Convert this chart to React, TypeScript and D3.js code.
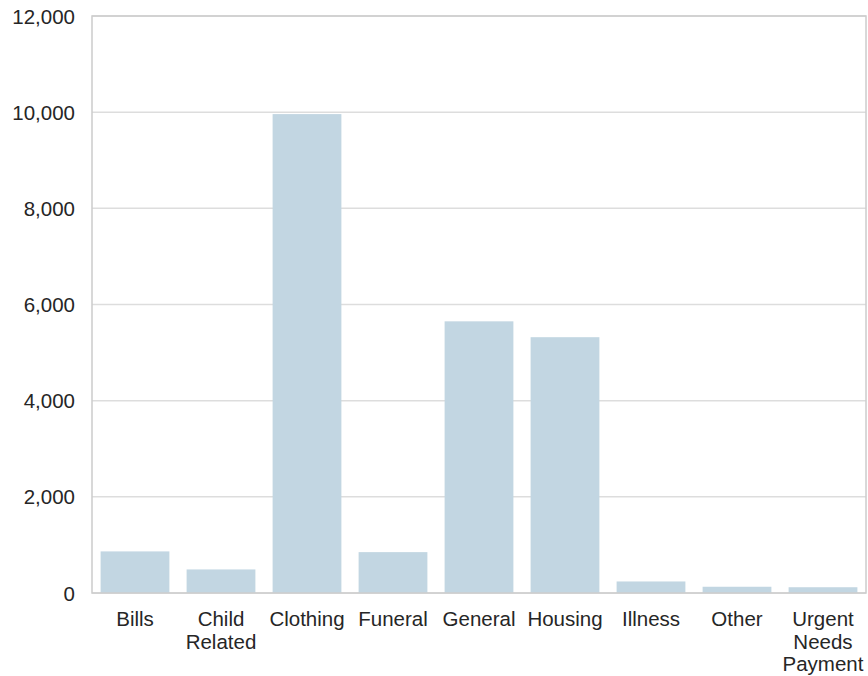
import React from "react";
import * as d3 from "d3";

const categories: string[][] = [
  ["Bills"],
  ["Child", "Related"],
  ["Clothing"],
  ["Funeral"],
  ["General"],
  ["Housing"],
  ["Illness"],
  ["Other"],
  ["Urgent", "Needs", "Payment"],
];
const values: number[] = [865, 490, 9960, 850, 5650, 5320, 240, 130, 120];
const yTicks: number[] = [0, 2000, 4000, 6000, 8000, 10000, 12000];

const W = 868;
const H = 676;
const margin = { left: 92, right: 2, top: 16, bottom: 83 };

export default function App() {
  const x = d3
    .scaleBand<number>()
    .domain(categories.map((_, i) => i))
    .range([margin.left, W - margin.right])
    .paddingInner(0.2)
    .paddingOuter(0.1);
  const y = d3
    .scaleLinear()
    .domain([0, 12000])
    .range([H - margin.bottom, margin.top]);
  const fmt = d3.format(",");
  const font = "'Liberation Sans', Arial, sans-serif";
  return (
    <svg
      width={W}
      height={H}
      style={{ position: "absolute", left: 0, top: 0, fontFamily: font }}
    >
      {yTicks.map((t) => (
        <g key={t}>
          <line
            x1={margin.left}
            x2={W - margin.right}
            y1={y(t)}
            y2={y(t)}
            stroke="#dddddd"
            strokeWidth={1.5}
          />
          <text
            x={75}
            y={y(t)}
            textAnchor="end"
            dominantBaseline="central"
            fontSize={20.5}
            fill="#262626"
          >
            {fmt(t)}
          </text>
        </g>
      ))}
      {values.map((v, i) => (
        <rect
          key={i}
          x={x(i)}
          y={y(v)}
          width={x.bandwidth()}
          height={y(0) - y(v)}
          fill="#c2d6e2"
        />
      ))}
      <rect
        x={margin.left}
        y={margin.top}
        width={W - margin.right - margin.left}
        height={H - margin.bottom - margin.top}
        fill="none"
        stroke="#cccccc"
        strokeWidth={1.5}
      />
      {categories.map((lines, i) => (
        <text
          key={i}
          x={(x(i) as number) + x.bandwidth() / 2}
          y={618}
          textAnchor="middle"
          dominantBaseline="central"
          fontSize={20.5}
          fill="#262626"
        >
          {lines.map((l, j) => (
            <tspan key={j} x={(x(i) as number) + x.bandwidth() / 2} dy={j === 0 ? 0 : 22.5}>
              {l}
            </tspan>
          ))}
        </text>
      ))}
    </svg>
  );
}
